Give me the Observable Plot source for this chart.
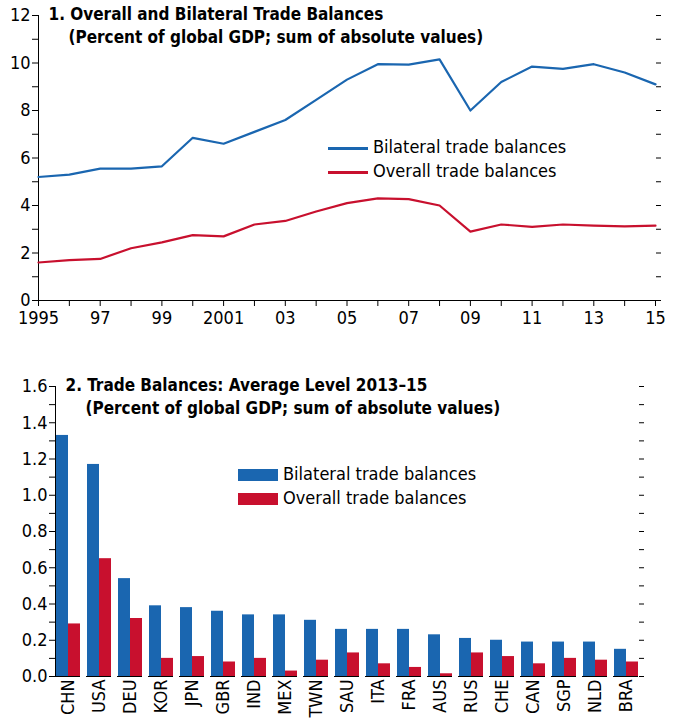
<!DOCTYPE html>
<html><head><meta charset="utf-8">
<script src="https://cdn.jsdelivr.net/npm/d3@7"></script>
<script src="https://cdn.jsdelivr.net/npm/@observablehq/plot@0.6"></script>
<style>
body{margin:0;background:#fff;font-family:"Liberation Sans Narrow","DejaVu Sans Condensed",sans-serif;}
.wrap{position:relative;width:674px}
.leg{position:absolute;font-size:18px;color:#000;line-height:24px}
.leg span.l{display:inline-block;width:40px;height:3px;vertical-align:middle;margin-right:5px}
.leg span.b{display:inline-block;width:40px;height:12px;vertical-align:middle;margin-right:5px}
svg{font-family:"Liberation Sans Narrow","DejaVu Sans Condensed",sans-serif}
</style></head><body>
<div class="wrap" id="p1"></div>
<div class="wrap" id="p2"></div>
<script>
const blue = '#1a66b0', red = '#c8102e';

// panel 1 data
const years = d3.range(1995, 2016);
const bilateral = [5.2,5.3,5.55,5.55,5.65,6.85,6.6,7.1,7.6,8.45,9.3,9.95,9.93,10.15,8.0,9.2,9.85,9.75,9.95,9.6,9.1];
const overall = [1.6,1.7,1.75,2.2,2.45,2.75,2.7,3.2,3.35,3.75,4.1,4.3,4.27,4.0,2.9,3.2,3.1,3.2,3.15,3.12,3.15];

// panel 2 data
const countries = ['CHN','USA','DEU','KOR','JPN','GBR','IND','MEX','TWN','SAU','ITA','FRA','AUS','RUS','CHE','CAN','SGP','NLD','BRA'];
const bilatAvg = [1.33,1.17,0.54,0.39,0.38,0.36,0.34,0.34,0.31,0.26,0.26,0.26,0.23,0.21,0.2,0.19,0.19,0.19,0.15];
const overallAvg = [0.29,0.65,0.32,0.10,0.11,0.08,0.10,0.03,0.09,0.13,0.07,0.05,0.015,0.13,0.11,0.07,0.10,0.09,0.08];

const series = ['Bilateral trade balances', 'Overall trade balances'];
const lines = years.flatMap((y, i) => [
  {year: y, v: bilateral[i], s: series[0]},
  {year: y, v: overall[i], s: series[1]}
]);
const bars = countries.flatMap((c, i) => [
  {c, v: bilatAvg[i], s: series[0]},
  {c, v: overallAvg[i], s: series[1]}
]);

const color = {domain: series, range: [blue, red]};

const fig1 = Plot.plot({
  width: 674, height: 335,
  marginTop: 15, marginBottom: 35, marginLeft: 38, marginRight: 19,
  style: {fontSize: '18px', color: '#000'},
  x: {domain: [1995, 2015], label: null},
  y: {domain: [0, 12], label: null},
  color,
  marks: [
    Plot.axisY(d3.range(0, 13), {tickSize: 6, tickFormat: d => d % 2 === 0 ? d : '', fontSize: 18, tickPadding: 2, label: null}),
    Plot.axisY(d3.range(0, 13), {anchor: 'right', tickSize: 5, tickFormat: () => '', label: null}),
    Plot.axisX(years, {tickSize: 6, tickFormat: d => d % 2 === 1 ? (d === 1995 || d === 2001 ? String(d) : String(d).slice(2)) : '', fontSize: 18, tickPadding: 5, label: null}),
    Plot.ruleX([1995]),
    Plot.ruleY([0]),
    Plot.line(lines, {x: 'year', y: 'v', stroke: 's', strokeWidth: 2.2}),
    Plot.text(['1. Overall and Bilateral Trade Balances'], {frameAnchor: 'top-left', dx: 10, dy: -8, fontWeight: 'bold', fontSize: 17, textAnchor: 'start'}),
    Plot.text(['(Percent of global GDP; sum of absolute values)'], {frameAnchor: 'top-left', dx: 30, dy: 15, fontWeight: 'bold', fontSize: 17, textAnchor: 'start'})
  ]
});
document.querySelector('#p1').append(fig1);
document.querySelector('#p1').insertAdjacentHTML('beforeend',
  `<div class="leg" style="left:328px;top:135px"><div><span class="l" style="background:${blue}"></span>${series[0]}</div><div><span class="l" style="background:${red}"></span>${series[1]}</div></div>`);

const fig2 = Plot.plot({
  width: 674, height: 388,
  marginTop: 51, marginBottom: 47, marginLeft: 38, marginRight: 19,
  style: {fontSize: '18px', color: '#000'},
  fx: {domain: countries, paddingInner: 0.2, paddingOuter: 0.3, label: null},
  x: {domain: series, padding: 0, label: null},
  y: {domain: [0, 1.6], label: null},
  color,
  marks: [
    Plot.axisY(d3.range(0, 17).map(d => d / 10), {tickSize: 6, tickFormat: (d, i) => i % 2 === 0 ? d3.format('.1f')(d) : '', fontSize: 18, tickPadding: 2, label: null}),
    Plot.axisY(d3.range(0, 17).map(d => d / 10), {anchor: 'right', tickSize: 5, tickFormat: () => '', label: null}),
    Plot.axisX({ticks: [], label: null}),
    Plot.axisFx({anchor: 'bottom', tickSize: 0, tickRotate: -90, fontSize: 18, label: null, tickPadding: 3}),
    Plot.frame({anchor: 'left', facet: 'super'}),
    Plot.barY(bars, {fx: 'c', x: 's', y: 'v', fill: 's'}),
    Plot.ruleY([0]),
    Plot.text(['2. Trade Balances: Average Level 2013–15'], {frameAnchor: 'top-left', dx: 10, dy: -8, fontWeight: 'bold', fontSize: 17, textAnchor: 'start', facet: 'super'}),
    Plot.text(['(Percent of global GDP; sum of absolute values)'], {frameAnchor: 'top-left', dx: 30, dy: 15, fontWeight: 'bold', fontSize: 17, textAnchor: 'start', facet: 'super'})
  ]
});
document.querySelector('#p2').append(fig2);
document.querySelector('#p2').insertAdjacentHTML('beforeend',
  `<div class="leg" style="left:238px;top:127px"><div><span class="b" style="background:${blue}"></span>${series[0]}</div><div><span class="b" style="background:${red}"></span>${series[1]}</div></div>`);
</script>
</body></html>
